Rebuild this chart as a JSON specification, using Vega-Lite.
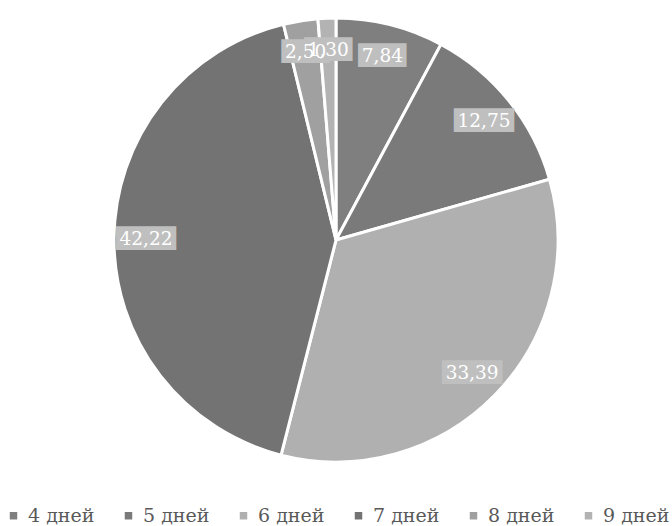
{
  "$schema": "https://vega.github.io/schema/vega-lite/v6.json",
  "width": 672,
  "height": 480,
  "padding": 0,
  "autosize": {"type": "pad"},
  "background": "white",
  "data": {
    "values": [
      {"cat": "4 дней", "value": 7.84, "label": "7,84"},
      {"cat": "5 дней", "value": 12.75, "label": "12,75"},
      {"cat": "6 дней", "value": 33.39, "label": "33,39"},
      {"cat": "7 дней", "value": 42.22, "label": "42,22"},
      {"cat": "8 дней", "value": 2.50, "label": "2,50"},
      {"cat": "9 дней", "value": 1.30, "label": "1,30"}
    ]
  },
  "encoding": {
    "theta": {"field": "value", "type": "quantitative", "stack": true},
    "order": {"field": "cat", "type": "ordinal"}
  },
  "layer": [
    {
      "mark": {"type": "arc", "outerRadius": 222, "stroke": "white", "strokeWidth": 3},
      "encoding": {
        "color": {
          "field": "cat",
          "type": "nominal",
          "sort": null,
          "scale": {
            "domain": ["4 дней", "5 дней", "6 дней", "7 дней", "8 дней", "9 дней"],
            "range": ["#7f7f7f", "#7a7a7a", "#b0b0b0", "#737373", "#a0a0a0", "#b3b3b3"]
          },
          "legend": {
            "title": null,
            "orient": "none",
            "legendX": 4,
            "legendY": 506,
            "direction": "horizontal",
            "symbolType": "square",
            "symbolSize": 56,
            "symbolStrokeWidth": 0,
            "labelFont": "DejaVu Serif",
            "labelFontSize": 19,
            "labelColor": "#595959",
            "columnPadding": 24,
            "symbolOffset": 0,
            "labelOffset": 5,
            "labelLimit": 200
          }
        }
      }
    },
    {
      "transform": [{"calculate": "substring('████████', 0, length(datum.label))", "as": "box"}],
      "mark": {"type": "text", "radius": 190, "font": "DejaVu Sans Mono", "fontSize": 20, "color": "#bfbfbf", "baseline": "middle"},
      "encoding": {"text": {"field": "box"}}
    },
    {
      "mark": {"type": "text", "radius": 190, "font": "DejaVu Serif", "fontSize": 18.5, "color": "white", "baseline": "middle"},
      "encoding": {"text": {"field": "label"}}
    }
  ]
}
